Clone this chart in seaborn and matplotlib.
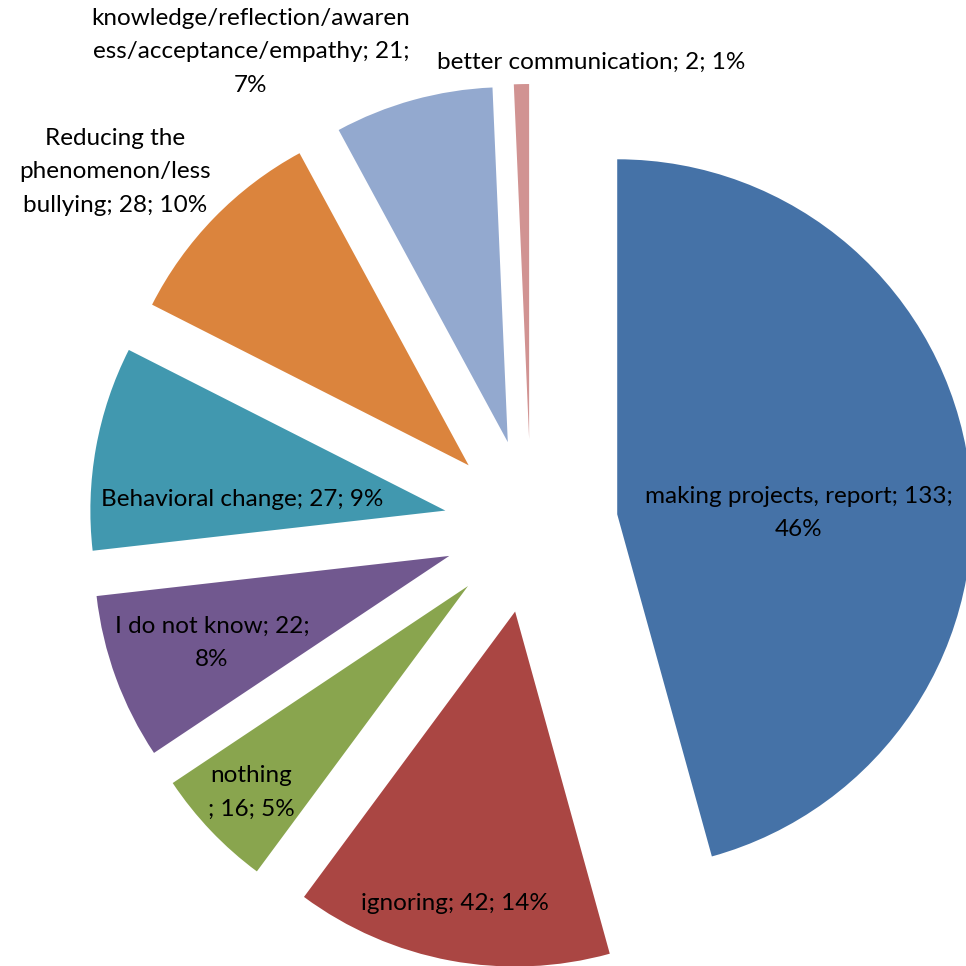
import matplotlib
matplotlib.use("Agg")
import matplotlib.pyplot as plt
import seaborn as sns

# data (Excel-style exploded pie)
categories = [
    "making projects, report",
    "ignoring",
    "nothing\n",
    "I do not know",
    "Behavioral change",
    "Reducing the\nphenomenon/less\nbullying",
    "knowledge/reflection/awaren\ness/acceptance/empathy",
    "better communication",
]
counts = [133, 42, 16, 22, 27, 28, 21, 2]
percents = [46, 14, 5, 8, 9, 10, 7, 1]
# labels that wrap before the percentage
wrap_pct = [True, False, False, True, False, False, True, False]

colors = ["#4572A7", "#AA4643", "#89A54E", "#71588F",
          "#4198AF", "#DB843D", "#93A9CF", "#D19392"]

label_texts = [
    f"{c}; {n};{chr(10) if w else ' '}{p}%"
    for c, n, p, w in zip(categories, counts, percents, wrap_pct)
]

sns.set_theme(style="white")
plt.rcParams["font.family"] = ["Lato", "DejaVu Sans"]

W = 966
R = 355.0          # pie radius in px
CX, CY = 531, 526  # pie centre in px (from top-left)
EXPLODE = 87 / R

fig = plt.figure(figsize=(W / 100, W / 100), dpi=100)
ax = fig.add_axes([0, 0, 1, 1])
ax.pie(
    counts,
    radius=1,
    center=(0, 0),
    explode=[EXPLODE] * len(counts),
    startangle=90,
    counterclock=False,
    colors=sns.color_palette(colors),
    wedgeprops=dict(linewidth=0),
)
ax.set_xlim(-CX / R, (W - CX) / R)
ax.set_ylim(-(W - CY) / R, CY / R)
ax.set_aspect("equal")
ax.axis("off")

# label centres in px
label_pos = [(799, 513), (455, 903), (251, 792), (212, 643),
             (242, 500), (115, 172), (251, 52), (591, 62)]
for txt, (px, py) in zip(label_texts, label_pos):
    fig.text(px / W, 1 - py / W, txt, ha="center", va="center",
             fontsize=17.5, color="black", linespacing=1.75)

fig.savefig("out.png", dpi=100, facecolor="white")
